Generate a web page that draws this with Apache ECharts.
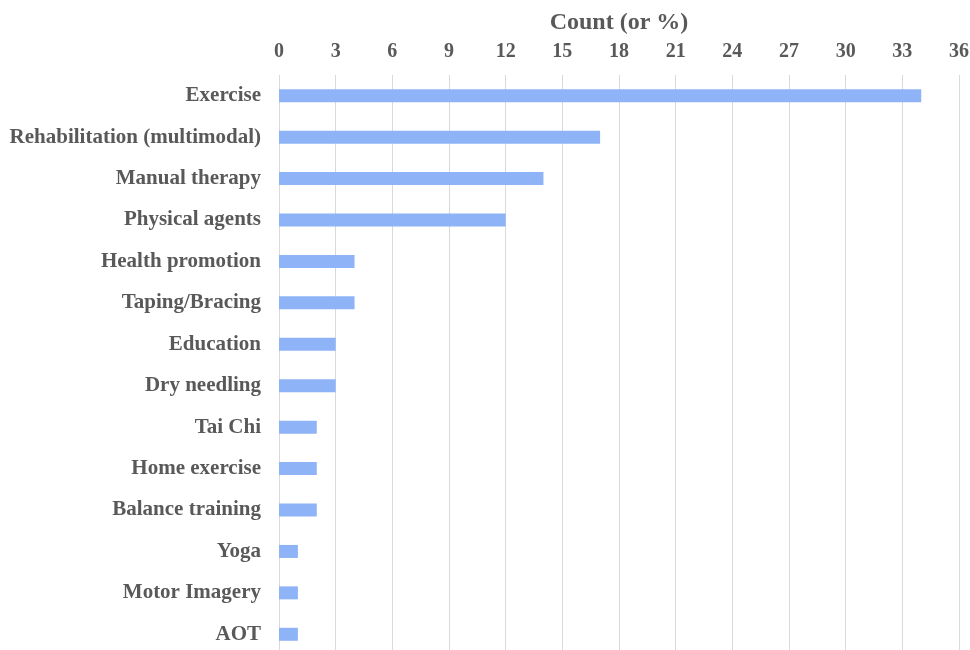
<!DOCTYPE html>
<html>
<head>
<meta charset="utf-8">
<script src="https://cdn.jsdelivr.net/npm/echarts@6/dist/echarts.min.js"></script>
<style>
  html, body { margin: 0; padding: 0; background: #fff; }
  #main { width: 970px; height: 650px; }
</style>
</head>
<body>
<div id="main"></div>
<script>
// categories top to bottom
var categories = ['Exercise', 'Rehabilitation (multimodal)', 'Manual therapy', 'Physical agents',
  'Health promotion', 'Taping/Bracing', 'Education', 'Dry needling', 'Tai Chi',
  'Home exercise', 'Balance training', 'Yoga', 'Motor Imagery', 'AOT'];
var counts = [34, 17, 14, 12, 4, 4, 3, 3, 2, 2, 2, 1, 1, 1];
var axisName = 'Count (or %)';

var chart = echarts.init(document.getElementById('main'));
var fontFam = '"Liberation Serif", "Times New Roman", serif';

var option = {
  animation: false,
  grid: { left: 279, right: 11, top: 75, height: 580, outerBoundsMode: 'none' },
  xAxis: {
    type: 'value',
    position: 'top',
    min: 0, max: 36, interval: 3,
    name: axisName,
    nameLocation: 'middle',
    nameGap: 40,
    nameMoveOverlap: false,
    nameTextStyle: { fontFamily: fontFam, fontWeight: 'bold', fontSize: 24, color: '#595959' },
    axisLine: { show: false },
    axisTick: { show: false },
    axisLabel: { fontFamily: fontFam, fontWeight: 'bold', fontSize: 20, color: '#595959', margin: 13 },
    splitLine: { show: true, lineStyle: { color: '#d9d9d9', width: 1 } }
  },
  yAxis: {
    type: 'category',
    inverse: true,
    data: categories,
    axisLine: { show: false },
    axisTick: { show: false },
    axisLabel: { fontFamily: fontFam, fontWeight: 'bold', fontSize: 21, color: '#595959', margin: 18 }
  },
  series: [{
    type: 'bar',
    data: counts,
    barWidth: 13,
    itemStyle: { color: '#8FB3F7' }
  }]
};
chart.setOption(option);
</script>
</body>
</html>
